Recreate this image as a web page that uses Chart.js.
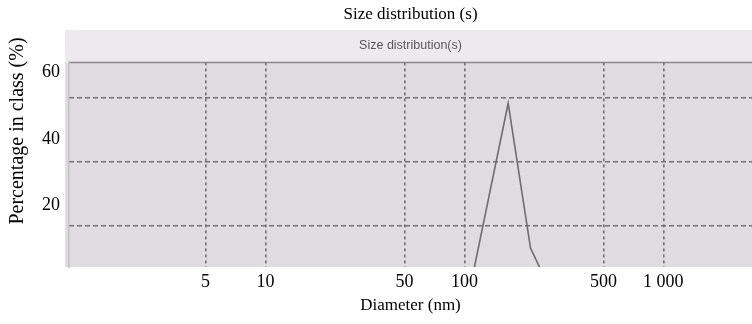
<!DOCTYPE html>
<html>
<head>
<meta charset="utf-8">
<script src="https://cdn.jsdelivr.net/npm/chart.js@4"></script>
<style>
  html, body { margin: 0; padding: 0; background: #fff; }
  #wrap { width: 752px; height: 324px; }
</style>
</head>
<body>
<div id="wrap"><canvas id="chart"></canvas></div>
<script>
// Size distribution data (diameter in nm, % in class)
const diameters = [111, 166, 215, 245];
const percentages = [0, 50.7, 7.2, 0];

// Axis ticks
const xTicks = [5, 10, 50, 100, 500, 1000];
const yTickLabels = [20, 40, 60];
// the scanned plot's own dashed grid rows (they do not sit on the labels)
const yGridRows = [14, 33.2, 52.5];

const serif = 'Liberation Serif, Times New Roman, serif';

// scanned-paper look: grey panel, lighter header band, solid top rule
const paperBg = {
  id: 'paperBg',
  beforeDraw(chart) {
    const { ctx, chartArea: a } = chart;
    ctx.save();
    ctx.fillStyle = '#edeaee';
    ctx.fillRect(65, 30, chart.width - 65, a.top - 30);
    ctx.fillStyle = '#dfdbe0';
    ctx.fillRect(65, a.top, chart.width - 65, a.bottom - a.top);
    ctx.strokeStyle = '#8c888c';
    ctx.lineWidth = 1.5;
    ctx.beginPath();
    ctx.moveTo(68, a.top);
    ctx.lineTo(chart.width, a.top);
    ctx.stroke();
    ctx.restore();
  },
  afterDraw(chart) {
    // y title sits higher than the axis centre in the original
    const { ctx } = chart;
    ctx.save();
    ctx.translate(18, 131);
    ctx.rotate(-Math.PI / 2);
    ctx.fillStyle = '#000';
    ctx.font = '20px ' + serif;
    ctx.textAlign = 'center';
    ctx.textBaseline = 'middle';
    ctx.fillText('Percentage in class (%)', 0, 0);
    ctx.restore();
  }
};

new Chart(document.getElementById('chart'), {
  type: 'line',
  data: {
    datasets: [{
      data: diameters.map((d, i) => ({ x: d, y: percentages[i] })),
      borderColor: '#6f6b70',
      borderWidth: 1.6,
      pointRadius: 0,
      tension: 0,
      fill: false
    }]
  },
  options: {
    responsive: true,
    maintainAspectRatio: false,
    animation: false,
    layout: { padding: 0 },
    plugins: {
      legend: { display: false },
      tooltip: { enabled: false },
      title: {
        display: true,
        text: 'Size distribution (s)',
        fullSize: false,
        color: '#000',
        font: { family: serif, size: 17, weight: 'normal' },
        padding: { top: 4, bottom: 4 }
      },
      subtitle: {
        display: true,
        text: 'Size distribution(s)',
        fullSize: false,
        color: '#5a575b',
        font: { family: 'Liberation Sans, Arial, sans-serif', size: 12.5 },
        padding: { top: 10, bottom: 9 }
      }
    },
    scales: {
      x: {
        type: 'logarithmic',
        min: 1.03,
        max: 2790,
        afterBuildTicks: (s) => { s.ticks = xTicks.map(v => ({ value: v })); },
        afterFit: (s) => { s.height = 57; },
        ticks: {
          color: '#000',
          font: { family: serif, size: 18 },
          padding: 4,
          maxRotation: 0,
          autoSkip: false,
          callback: (v) => v >= 1000 ? String(v).replace(/\B(?=(\d{3})+$)/g, ' ') : String(v)
        },
        grid: {
          color: '#737074',
          lineWidth: 1.6,
          drawTicks: false
        },
        border: { display: false, dash: [3, 3] },
        title: {
          display: true,
          text: 'Diameter (nm)',
          color: '#000',
          font: { family: serif, size: 17 },
          padding: { top: 0, bottom: 8 }
        }
      },
      y: {
        min: 1.5,
        max: 63,
        position: 'left',
        afterBuildTicks: (s) => { s.ticks = yTickLabels.map(v => ({ value: v })); },
        afterFit: (s) => { s.width = 69; },
        ticks: {
          color: '#000',
          font: { family: serif, size: 18 },
          padding: 9
        },
        grid: { display: false, drawTicks: false },
        border: { display: true, color: '#c4c0c5', width: 1.5 }
      },
      yGrid: {
        min: 1.5,
        max: 63,
        position: 'right',
        afterBuildTicks: (s) => { s.ticks = yGridRows.map(v => ({ value: v })); },
        afterFit: (s) => { s.width = 0; },
        ticks: { display: false },
        grid: { color: '#737074', lineWidth: 1.6, drawTicks: false },
        border: { display: false, dash: [5, 3] }
      }
    }
  },
  plugins: [paperBg]
});
</script>
</body>
</html>
